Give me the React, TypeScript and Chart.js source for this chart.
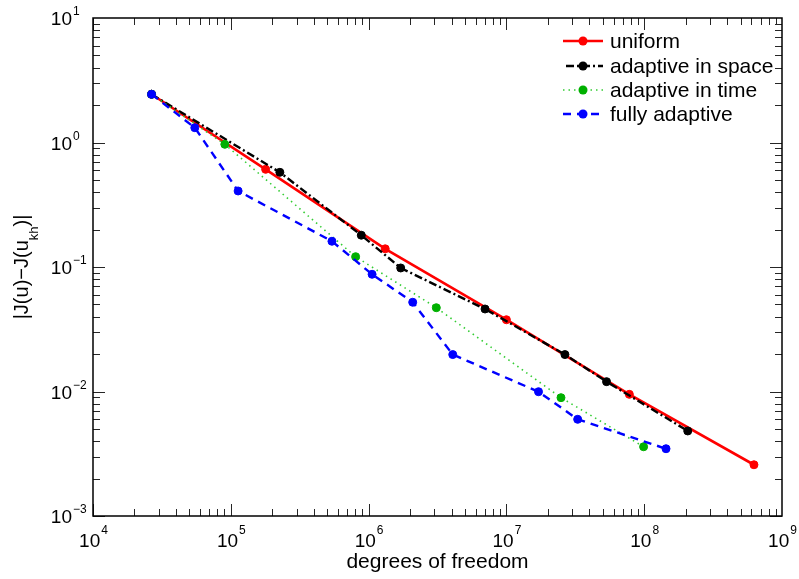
import React, { useEffect, useRef } from "react";
import { Chart, registerables } from "chart.js";

Chart.register(...registerables);

// ---- data ----
const xUniform = [2.66e4, 1.79e5, 1.32e6, 1.0e7, 7.8e7, 6.26e8];
const yUniform = [2.44, 0.609, 0.14, 0.0377, 0.00949, 0.00258];

const xSpace = [2.66e4, 2.27e5, 8.85e5, 1.71e6, 7.0e6, 2.66e7, 5.33e7, 2.07e8];
const ySpace = [2.44, 0.576, 0.18, 0.0982, 0.046, 0.0198, 0.012, 0.00482];

const xTime = [2.66e4, 9.05e4, 8.05e5, 3.1e6, 2.49e7, 9.9e7];
const yTime = [2.44, 0.967, 0.121, 0.0471, 0.00892, 0.0036];

const xFull = [2.66e4, 5.48e4, 1.13e5, 5.42e5, 1.06e6, 2.09e6, 4.08e6, 1.71e7, 3.29e7, 1.44e8];
const yFull = [2.44, 1.315, 0.408, 0.161, 0.0874, 0.0521, 0.0198, 0.00996, 0.00598, 0.00347];

const seriesLabels = ["uniform", "adaptive in space", "adaptive in time", "fully adaptive"];
const xTickExponents = [4, 5, 6, 7, 8, 9];
const yTickExponents = [-3, -2, -1, 0, 1];
const xTitle = "degrees of freedom";

const FONT = '"Liberation Sans", Arial, Helvetica, sans-serif';

const styles = [
  { color: "#ff0000", line: "#ff0000", width: 2.6, dash: [] as number[], legendOffset: 0 },
  { color: "#000000", line: "#000000", width: 2.4, dash: [8, 3, 2, 3], legendOffset: 13 },
  { color: "#00b000", line: "#33cc33", width: 1.6, dash: [1.5, 4], legendOffset: 0 },
  { color: "#0000ff", line: "#0000ff", width: 2.4, dash: [8, 6], legendOffset: 0 },
];

const toPts = (xs: number[], ys: number[]) => xs.map((x, i) => ({ x, y: ys[i] }));

const sup = (n: number) => (n < 0 ? "\u2212" + Math.abs(n) : String(n));

const axesPlugin = {
  id: "matlabAxes",
  afterDatasetsDraw(chart: any) {
    const { ctx, chartArea: a, scales } = chart;
    const xs = scales.x;
    const ys = scales.y;
    ctx.save();

    // minor / major ticks, inward on all four sides
    ctx.strokeStyle = "#262626";
    ctx.lineWidth = 1;
    ctx.setLineDash([]);
    ctx.beginPath();
    for (let d = xTickExponents[0]; d < xTickExponents[xTickExponents.length - 1]; d++) {
      for (let m = 1; m <= 9; m++) {
        const px = Math.round(xs.getPixelForValue(m * Math.pow(10, d))) + 0.5;
        const len = m === 1 ? 12 : 7;
        ctx.moveTo(px, a.bottom);
        ctx.lineTo(px, a.bottom - len);
        ctx.moveTo(px, a.top);
        ctx.lineTo(px, a.top + len);
      }
    }
    for (let d = yTickExponents[0]; d < yTickExponents[yTickExponents.length - 1]; d++) {
      for (let m = 1; m <= 9; m++) {
        const py = Math.round(ys.getPixelForValue(m * Math.pow(10, d))) + 0.5;
        const len = m === 1 ? 12 : 7;
        ctx.moveTo(a.left, py);
        ctx.lineTo(a.left + len, py);
        ctx.moveTo(a.right, py);
        ctx.lineTo(a.right - len, py);
      }
    }
    ctx.stroke();

    // box
    ctx.strokeStyle = "#000";
    ctx.lineWidth = 1.5;
    ctx.strokeRect(a.left, a.top, a.right - a.left, a.bottom - a.top);

    ctx.fillStyle = "#000";
    // x tick labels
    for (const e of xTickExponents) {
      const px = xs.getPixelForValue(Math.pow(10, e));
      ctx.font = `19px ${FONT}`;
      const wb = ctx.measureText("10").width;
      ctx.font = `12px ${FONT}`;
      const we = ctx.measureText(sup(e)).width;
      const x0 = px - (wb + we) / 2;
      ctx.textAlign = "left";
      ctx.textBaseline = "alphabetic";
      ctx.font = `19px ${FONT}`;
      ctx.fillText("10", x0, a.bottom + 31);
      ctx.font = `12px ${FONT}`;
      ctx.fillText(sup(e), x0 + wb + 1, a.bottom + 18);
    }
    // y tick labels
    for (const e of yTickExponents) {
      const py = ys.getPixelForValue(Math.pow(10, e));
      ctx.textAlign = "right";
      ctx.textBaseline = "alphabetic";
      ctx.font = `19px ${FONT}`;
      ctx.fillText("10", a.left - 21, py + 7);
      ctx.textAlign = "left";
      ctx.font = `12px ${FONT}`;
      ctx.fillText(sup(e), a.left - 20, py - 3);
    }

    // x title
    ctx.font = `21px ${FONT}`;
    ctx.textAlign = "center";
    ctx.textBaseline = "alphabetic";
    ctx.fillText(xTitle, (a.left + a.right) / 2, 568);

    // y title  |J(u)−J(u_kh)|
    const p1 = "|J(u)\u2212J(u";
    const subTxt = "kh";
    const p2 = ")|";
    ctx.save();
    ctx.translate(28, (a.top + a.bottom) / 2);
    ctx.rotate(-Math.PI / 2);
    ctx.textAlign = "left";
    ctx.font = `20px ${FONT}`;
    const w1 = ctx.measureText(p1).width;
    const w3 = ctx.measureText(p2).width;
    ctx.font = `13px ${FONT}`;
    const w2 = ctx.measureText(subTxt).width;
    let tx = -(w1 + w2 + w3) / 2;
    ctx.font = `20px ${FONT}`;
    ctx.fillText(p1, tx, 0);
    tx += w1;
    ctx.font = `13px ${FONT}`;
    ctx.fillText(subTxt, tx, 10);
    tx += w2;
    ctx.font = `20px ${FONT}`;
    ctx.fillText(p2, tx, 0);
    ctx.restore();

    // legend
    const lx0 = 563;
    const lx1 = 603;
    const rows = [41, 66, 90, 114];
    styles.forEach((s, i) => {
      const y = rows[i];
      ctx.strokeStyle = s.line;
      ctx.lineWidth = s.width;
      ctx.setLineDash(s.dash);
      ctx.lineDashOffset = s.legendOffset;
      ctx.beginPath();
      ctx.moveTo(lx0, y);
      ctx.lineTo(lx1, y);
      ctx.stroke();
      ctx.setLineDash([]);
      ctx.lineDashOffset = 0;
      ctx.fillStyle = s.color;
      ctx.beginPath();
      ctx.arc((lx0 + lx1) / 2, y, 4.5, 0, Math.PI * 2);
      ctx.fill();
      ctx.fillStyle = "#000";
      ctx.font = `21px ${FONT}`;
      ctx.textAlign = "left";
      ctx.textBaseline = "middle";
      ctx.fillText(seriesLabels[i], 610, y + 1);
    });

    ctx.restore();
  },
};

export default function App() {
  const ref = useRef<HTMLCanvasElement | null>(null);

  useEffect(() => {
    if (!ref.current) return;
    const seriesData = [
      toPts(xUniform, yUniform),
      toPts(xSpace, ySpace),
      toPts(xTime, yTime),
      toPts(xFull, yFull),
    ];
    const chart = new Chart(ref.current, {
      type: "scatter",
      data: {
        datasets: seriesData.map((d, i) => ({
          label: seriesLabels[i],
          data: d,
          showLine: true,
          borderColor: styles[i].line,
          borderWidth: styles[i].width,
          borderDash: styles[i].dash,
          backgroundColor: styles[i].color,
          pointBackgroundColor: styles[i].color,
          pointBorderColor: styles[i].color,
          pointBorderWidth: 1,
          pointRadius: 4,
          pointHoverRadius: 4,
          order: 4 - i,
          clip: false as any,
        })),
      },
      options: {
        animation: false,
        responsive: false,
        devicePixelRatio: 1,
        layout: { padding: { left: 93, top: 18, right: 17, bottom: 63 } },
        plugins: { legend: { display: false }, tooltip: { enabled: false } },
        scales: {
          x: { type: "logarithmic", min: 1e4, max: 1e9, display: false },
          y: { type: "logarithmic", min: 1e-3, max: 10, display: false },
        },
      },
      plugins: [axesPlugin],
    });
    return () => chart.destroy();
  }, []);

  return (
    <div style={{ position: "absolute", left: 0, top: 0, width: 799, height: 579, background: "#fff" }}>
      <canvas ref={ref} width={799} height={579} style={{ display: "block", width: 799, height: 579 }} />
    </div>
  );
}
